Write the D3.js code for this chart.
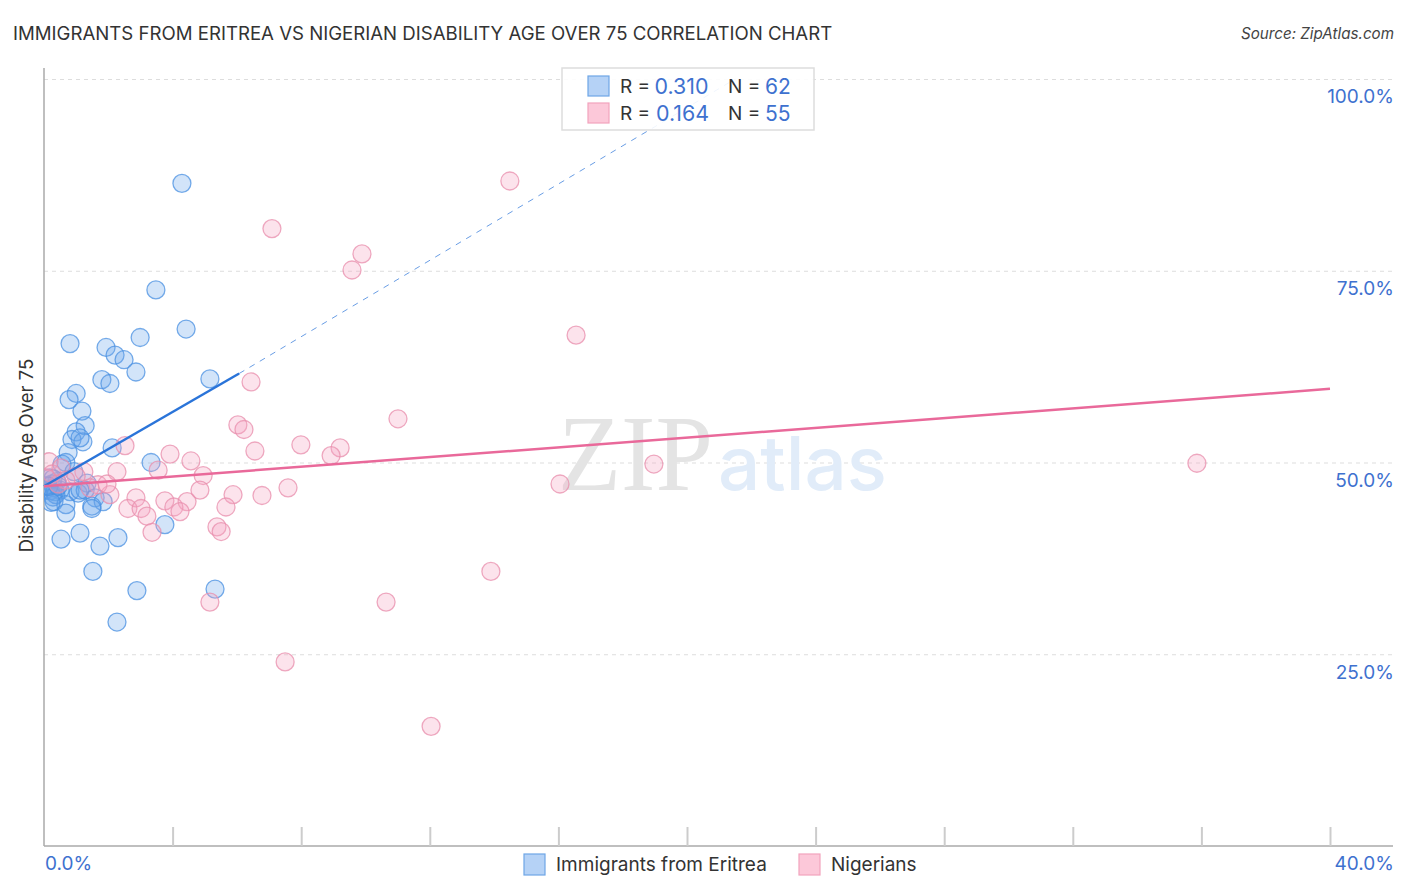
<!DOCTYPE html>
<html lang="en">

<head>
    <script src="https://d3js.org/d3.v7.min.js"></script>
    <style>
        body { margin: 0; background: white; }
        text { font-family: Inter, "Open Sans", sans-serif; }
        .gridlines line { stroke: #ddd; stroke-dasharray: 4 4; }
        .gridlines .domain { stroke: none; }
        .xaxis line { stroke: #ccc; stroke-width: 2; }
        .xaxis .domain, .yaxis .domain { stroke: #aaa; stroke-width: 1.5; }
    </style>
</head>

<body>
    <svg id="chart" width="1406" height="892"></svg>

    <script>
        const title = "IMMIGRANTS FROM ERITREA VS NIGERIAN DISABILITY AGE OVER 75 CORRELATION CHART";
        const source = "Source: ZipAtlas.com";
        const yLabel = "Disability Age Over 75";
        const seriesNames = ["Immigrants from Eritrea", "Nigerians"];
        const rValues = ["0.310", "0.164"];
        const nValues = ["62", "55"];

        const xTicks = [0, 4, 8, 12, 16, 20, 24, 28, 32, 36, 40];
        const yTicks = [25, 50, 75, 100];

        // values, [x %, y %]
        const eritrea = [
            [4.29, 86.4], [3.48, 72.5], [4.42, 67.4], [0.81, 65.5], [2.99, 66.3], [1.93, 65.0],
            [2.21, 64.0], [2.49, 63.4], [2.86, 61.8], [5.16, 60.9], [1.80, 60.8], [2.05, 60.3],
            [1.00, 59.0], [0.78, 58.2], [1.18, 56.7], [1.28, 54.8], [1.00, 54.0], [0.87, 53.0],
            [1.21, 52.7], [1.12, 53.2], [2.12, 51.9], [0.75, 51.3], [3.33, 50.0], [0.56, 49.8],
            [0.68, 50.0], [0.93, 48.8], [1.34, 47.3], [0.19, 48.0], [0.25, 47.2], [0.40, 47.5],
            [0.12, 47.0], [0.31, 46.7], [0.50, 46.4], [0.03, 46.4], [0.19, 46.3], [0.34, 46.2],
            [0.81, 46.2], [1.06, 46.0], [1.28, 46.4], [0.28, 45.5], [0.37, 45.8], [1.12, 46.4],
            [1.59, 45.4], [1.84, 44.9], [0.31, 44.9], [0.68, 44.5], [1.49, 44.3], [1.49, 44.0],
            [0.68, 43.4], [3.76, 41.9], [1.12, 40.8], [0.53, 40.0], [2.30, 40.2], [1.74, 39.1],
            [1.52, 35.8], [2.89, 33.3], [5.32, 33.5], [2.27, 29.2], [0.22, 44.8], [0.28, 47.9],
            [0.15, 46.9], [0.44, 46.9]
        ];
        const nigerians = [
            [14.49, 86.7], [7.09, 80.5], [9.89, 77.2], [9.58, 75.1], [16.55, 66.6], [6.44, 60.5],
            [11.01, 55.7], [6.03, 54.9], [6.22, 54.3], [2.52, 52.2], [7.99, 52.3], [9.21, 51.9],
            [6.56, 51.5], [8.93, 50.9], [3.92, 51.1], [4.57, 50.2], [18.97, 49.8], [35.86, 49.9],
            [3.55, 49.0], [4.95, 48.3], [2.27, 48.8], [1.24, 48.8], [16.05, 47.2], [7.59, 46.7],
            [4.85, 46.4], [5.88, 45.8], [6.78, 45.7], [2.05, 45.8], [2.86, 45.4], [3.76, 45.0],
            [4.45, 44.9], [4.04, 44.2], [5.66, 44.2], [2.61, 44.0], [3.02, 44.0], [3.20, 43.0],
            [4.23, 43.6], [5.38, 41.6], [5.51, 41.0], [3.36, 40.9], [13.90, 35.8], [10.64, 31.8],
            [5.16, 31.8], [7.50, 24.0], [12.04, 15.6], [0.16, 50.1], [0.06, 48.0], [0.25, 48.5],
            [0.53, 49.3], [1.00, 48.2], [0.68, 47.7], [0.44, 47.2], [1.68, 47.1], [1.96, 47.2],
            [1.43, 46.7]
        ];

        // trend lines
        const eritreaSolid = [[0, 46.9], [6.07, 61.6]];
        const eritreaDashed = [[6.07, 61.6], [21.5, 100]];
        const nigeriansLine = [[0, 46.9], [40, 59.6]];

        const blue = { fill: "#6aa5ea", stroke: "#4a90e2", line: "#2a74d9", swatch: "#b5d2f6", swatchStroke: "#6ea6e6" };
        const pink = { fill: "#f5a3c0", stroke: "#e88dac", line: "#e9699a", swatch: "#fcc8d9", swatchStroke: "#f2a3bd" };
        const labelColor = "#3e71cf";

        const svg = d3.select("svg#chart");
        const x = d3.scaleLinear().domain([0, 40]).range([44, 1330]);
        const y = d3.scaleLinear().domain([0, 100]).range([846, 79]);
        const line = d3.line().x(d => x(d[0])).y(d => y(d[1]));

        // circles stop at the left axis
        svg.append("clipPath").attr("id", "plotClip")
            .append("rect")
            .attr("x", 44).attr("y", 60).attr("width", 1350).attr("height", 786);

        // gridlines
        svg.append("g")
            .attr("class", "gridlines")
            .attr("transform", "translate(44,0)")
            .call(d3.axisRight(y).tickValues(yTicks).tickSize(1349).tickFormat(""));

        // axes
        svg.append("g")
            .attr("class", "xaxis")
            .attr("transform", "translate(0,846)")
            .call(d3.axisTop(x).tickValues(xTicks.slice(1)).tickSize(19).tickSizeOuter(0).tickFormat(""))
            .select(".domain").attr("d", "M44,0H1393");
        svg.append("g")
            .attr("class", "yaxis")
            .attr("transform", "translate(44,0)")
            .call(d3.axisLeft(y).tickValues([]).tickSize(0))
            .select(".domain").attr("d", "M0,68V846");

        // watermark
        svg.append("text").text("ZIP")
            .attr("x", 558).attr("y", 490)
            .attr("font-size", 108)
            .attr("textLength", 155).attr("lengthAdjust", "spacingAndGlyphs")
            .style("font-family", "'Liberation Serif', serif")
            .attr("fill", "#e4e4e4");
        svg.append("text").text("atlas")
            .attr("x", 718).attr("y", 490)
            .attr("font-size", 74.5).attr("font-weight", 500)
            .attr("fill", "#e1ecf9");

        // points
        function drawPoints(data, c) {
            svg.append("g")
                .attr("clip-path", "url(#plotClip)")
                .selectAll("circle")
                .data(data)
                .join("circle")
                .attr("cx", d => x(d[0]))
                .attr("cy", d => y(d[1]))
                .attr("r", 9)
                .attr("fill", c.fill)
                .attr("fill-opacity", 0.3)
                .attr("stroke", c.stroke)
                .attr("stroke-opacity", 0.75)
                .attr("stroke-width", 1.3);
        }
        drawPoints(eritrea, blue);
        drawPoints(nigerians, pink);

        // trend lines
        svg.append("path").attr("d", line(eritreaDashed))
            .attr("fill", "none").attr("stroke", blue.line).attr("stroke-width", 1)
            .attr("stroke-opacity", 0.7).attr("stroke-dasharray", "6 6");
        svg.append("path").attr("d", line(eritreaSolid))
            .attr("fill", "none").attr("stroke", blue.line).attr("stroke-width", 2.5);
        svg.append("path").attr("d", line(nigeriansLine))
            .attr("fill", "none").attr("stroke", pink.line).attr("stroke-width", 2.5);

        // title, source, axis labels
        svg.append("text").text(title)
            .attr("x", 13).attr("y", 40)
            .attr("font-size", 18.63).attr("fill", "#333");
        svg.append("text").text(source)
            .attr("x", 1394).attr("y", 39)
            .attr("text-anchor", "end").attr("font-size", 15.2).attr("font-style", "italic").attr("fill", "#444");
        svg.append("text").text(yLabel)
            .attr("transform", "translate(33,455.5) rotate(-90)")
            .attr("text-anchor", "middle").attr("font-size", 18.5).attr("fill", "#333");

        svg.append("g").selectAll("text")
            .data(yTicks)
            .join("text")
            .text(d => d3.format(".1f")(d) + "%")
            .attr("x", 1394)
            .attr("y", d => y(d) + 24.3)
            .attr("text-anchor", "end").attr("font-size", 19).attr("fill", labelColor);
        svg.append("text").text("0.0%")
            .attr("x", 45).attr("y", 870)
            .attr("font-size", 19).attr("fill", labelColor);
        svg.append("text").text("40.0%")
            .attr("x", 1394).attr("y", 870)
            .attr("text-anchor", "end").attr("font-size", 19).attr("fill", labelColor);

        // top legend
        svg.append("rect")
            .attr("x", 562).attr("y", 68).attr("width", 252).attr("height", 62)
            .attr("fill", "white").attr("fill-opacity", 0.9)
            .attr("stroke", "#ddd").attr("stroke-width", 1.5);

        [blue, pink].forEach((c, i) => {
            const rowY = 76 + i * 27;
            svg.append("rect")
                .attr("x", 588).attr("y", rowY).attr("width", 21).attr("height", 20)
                .attr("fill", c.swatch).attr("stroke", c.swatchStroke).attr("stroke-width", 1.2);
            svg.append("text").text("R = ")
                .attr("x", 620).attr("y", rowY + 17)
                .attr("font-size", 19).attr("fill", "#333");
            svg.append("text").text(rValues[i])
                .attr("x", i == 0 ? 654.5 : 656).attr("y", rowY + 18)
                .attr("font-size", 21.4).attr("fill", labelColor);
            svg.append("text").text("N = ")
                .attr("x", 728).attr("y", rowY + 17)
                .attr("font-size", 19).attr("fill", "#333");
            svg.append("text").text(nValues[i])
                .attr("x", 765).attr("y", rowY + 18)
                .attr("font-size", 21).attr("fill", labelColor);
        });

        // bottom legend
        [[524, 556], [799, 831]].forEach((pos, i) => {
            const c = i == 0 ? blue : pink;
            svg.append("rect")
                .attr("x", pos[0]).attr("y", 854).attr("width", 21).attr("height", 21)
                .attr("fill", c.swatch).attr("stroke", c.swatchStroke).attr("stroke-width", 1.2);
            svg.append("text").text(seriesNames[i])
                .attr("x", pos[1]).attr("y", 871)
                .attr("font-size", 19).attr("fill", "#333");
        });
    </script>
</body>

</html>
